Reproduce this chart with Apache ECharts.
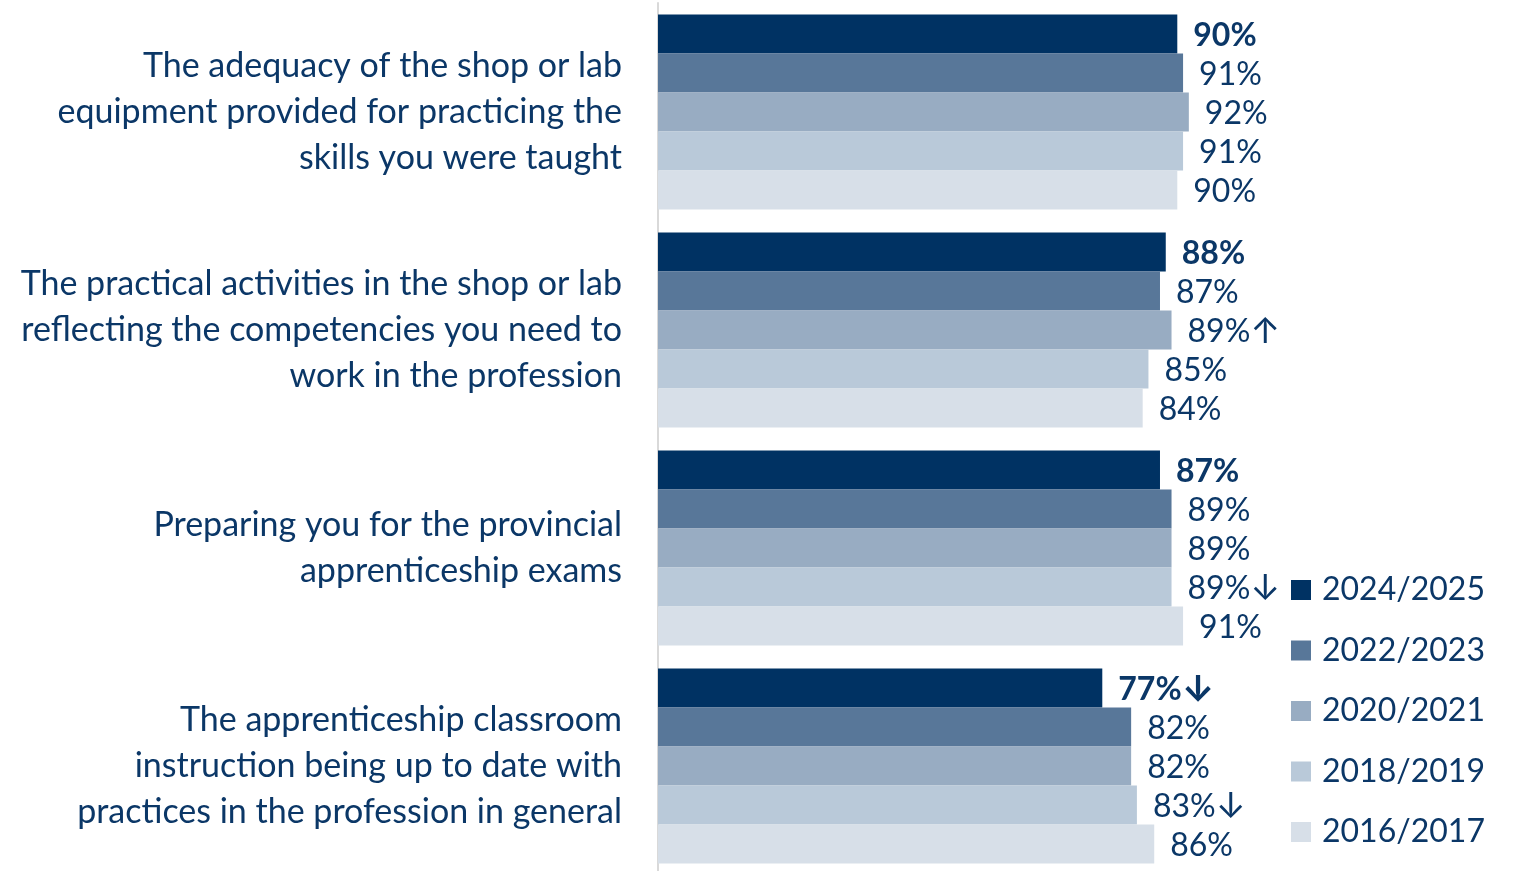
<!DOCTYPE html>
<html>
<head>
<meta charset="utf-8">
<script src="https://cdn.jsdelivr.net/npm/echarts@6/dist/echarts.min.js"></script>
<style>
  html, body { margin: 0; padding: 0; background: #ffffff; }
  #chart { width: 1516px; height: 871px; }
</style>
</head>
<body>
<div id="chart"></div>
<script>
// Survey items (one group of bars each)
const categories = [
  'The adequacy of the shop or lab\nequipment provided for practicing the\nskills you were taught',
  'The practical activities in the shop or lab\nreflecting the competencies you need to\nwork in the profession',
  'Preparing you for the provincial\napprenticeship exams',
  'The apprenticeship classroom\ninstruction being up to date with\npractices in the profession in general'
];

// Survey years, newest first
const years = ['2024/2025', '2022/2023', '2020/2021', '2018/2019', '2016/2017'];

// Percent agreeing, per survey year
const values2024 = [90, 88, 87, 77];
const values2022 = [91, 87, 89, 82];
const values2020 = [92, 89, 89, 82];
const values2018 = [91, 85, 89, 83];
const values2016 = [90, 84, 91, 86];

// Significant change markers shown after a value
const trend2024 = ['', '', '', '↓'];
const trend2022 = ['', '', '', ''];
const trend2020 = ['', '↑', '', ''];
const trend2018 = ['', '', '↓', '↓'];
const trend2016 = ['', '', '', ''];

const seriesValues = [values2024, values2022, values2020, values2018, values2016];
const seriesTrends = [trend2024, trend2022, trend2020, trend2018, trend2016];
const colors = ['#003263', '#587799', '#98acc2', '#b9c9d9', '#d7dfe8'];

const textColor = '#0b3767';
const fontFamily = 'Lato, "Open Sans", sans-serif';

const chart = echarts.init(document.getElementById('chart'));

const series = years.map((year, i) => ({
  name: year,
  type: 'bar',
  data: seriesValues[i],
  barGap: '0%',
  barWidth: 39,
  itemStyle: { color: colors[i] },
  label: {
    show: true,
    position: 'right',
    distance: 16,
    offset: [0, 2],
    color: textColor,
    fontFamily: fontFamily,
    fontSize: 32,
    fontWeight: i === 0 ? 'bold' : 'normal',
    formatter: p => {
      const mark = seriesTrends[i][p.dataIndex];
      return p.value + '%' + (mark ? '{arr|' + mark + '}' : '');
    },
    rich: {
      arr: {
        fontFamily: 'Inter, "DejaVu Sans", sans-serif',
        fontSize: 36,
        lineHeight: 32,
        fontWeight: i === 0 ? 'bold' : 'normal',
        color: textColor
      }
    }
  },
  emphasis: { disabled: true }
}));

chart.setOption({
  animation: false,
  grid: { left: 658, top: 3, width: 577, height: 872, outerBoundsMode: 'none' },
  legend: {
    orient: 'vertical',
    left: 1291,
    top: 574,
    padding: 0,
    itemWidth: 20,
    itemHeight: 20,
    itemGap: 28.5,
    icon: 'rect',
    data: years,
    textStyle: {
      color: textColor,
      fontFamily: fontFamily,
      fontSize: 32,
      lineHeight: 32,
      padding: [0, 0, 0, 6]
    }
  },
  xAxis: {
    type: 'value',
    min: 0,
    max: 100,
    show: false
  },
  yAxis: {
    type: 'category',
    inverse: true,
    data: categories,
    axisTick: { show: false },
    axisLine: { show: true, lineStyle: { color: '#d9d9d9', width: 2 } },
    axisLabel: {
      margin: 36,
      color: textColor,
      fontFamily: fontFamily,
      fontSize: 34,
      lineHeight: 46,
      align: 'right'
    }
  },
  series: series
});
</script>
</body>
</html>
